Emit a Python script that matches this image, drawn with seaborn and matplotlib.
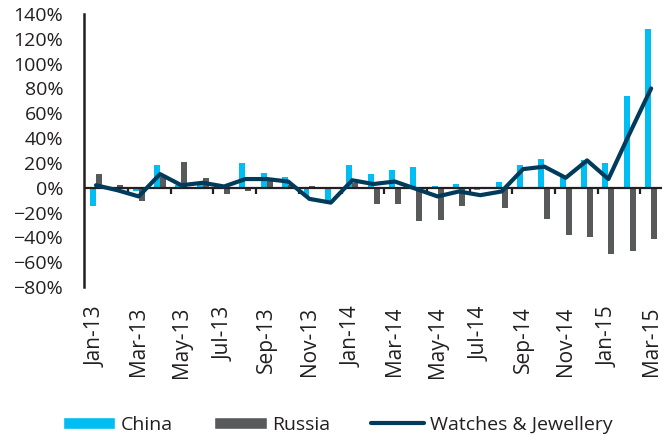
import numpy as np
import pandas as pd
import seaborn as sns
import matplotlib.pyplot as plt
from matplotlib.patches import Patch
from matplotlib.lines import Line2D
from matplotlib.ticker import PercentFormatter

# monthly year-on-year growth (%), Jan-13 .. Mar-15
months = ["Jan-13", "Feb-13", "Mar-13", "Apr-13", "May-13", "Jun-13", "Jul-13",
          "Aug-13", "Sep-13", "Oct-13", "Nov-13", "Dec-13", "Jan-14", "Feb-14",
          "Mar-14", "Apr-14", "May-14", "Jun-14", "Jul-14", "Aug-14", "Sep-14",
          "Oct-14", "Nov-14", "Dec-14", "Jan-15", "Feb-15", "Mar-15"]
china = [-15, -1, -3, 18, 2, 5, 1, 20, 12, 9, -7, -11, 18, 11, 14, 17, 1, 3,
         -2, 5, 18, 23, 9, 22, 20, 74, 128]
russia = [11, 2, -11, 9, 21, 8, -5, -3, 6, 2, 1, 0, 4, -13, -13, -27, -26, -15,
          -1, -16, -1, -25, -38, -40, -53, -51, -41]
watches = [2, -2, -7, 11, 2, 4, 1, 7, 7, 5, -9, -12, 6, 3, 5, -1, -7, -3, -6,
           -3, 15, 17, 8, 22, 7, 44, 80]

cyan = "#00BDF2"
grey = "#58595B"
navy = "#003B5C"
ink = "#231F20"

sns.set_style("white")
plt.rcParams["font.family"] = ["Open Sans", "DejaVu Sans"]
plt.rcParams["text.color"] = ink
plt.rcParams["xtick.color"] = ink
plt.rcParams["ytick.color"] = ink

# long-form table for the grouped bars
bars = pd.DataFrame({
    "month": months * 2,
    "value": china + russia,
    "country": ["China"] * len(months) + ["Russia"] * len(months),
})

fig = plt.figure(figsize=(6.71, 4.40), dpi=100)
ax = fig.add_axes([0.1252, 0.3477, 0.8614, 0.6205])

sns.barplot(data=bars, x="month", y="value", hue="country",
            palette=[cyan, grey], width=0.56, saturation=1, linewidth=0,
            legend=False, ax=ax, zorder=2)

# zero line drawn over the bars
ax.axhline(0, color=ink, lw=1.6, zorder=3)

sns.lineplot(x=np.arange(len(months)), y=watches, ax=ax, color=navy,
             lw=3, zorder=4)

ax.set_xlim(-0.56, 26.51)
ax.set_ylim(-80, 140)
ax.set_yticks(np.arange(-80, 141, 20))
ax.yaxis.set_major_formatter(PercentFormatter(decimals=0))
ax.set_xlabel("")
ax.set_ylabel("")

# month labels every other month, under the plot
ax.set_xticks(np.arange(0, len(months), 2))
ax.set_xticklabels(months[::2], rotation=90, va="top", ha="center")
ax.tick_params(axis="x", length=0, pad=14, labelsize=15)
ax.tick_params(axis="y", direction="out", length=5, width=1.8, pad=10,
               labelsize=14)

for side in ["top", "right", "bottom"]:
    ax.spines[side].set_visible(False)
ax.spines["left"].set_color(ink)
ax.spines["left"].set_linewidth(1.8)

# small tick marks on the zero line between every two months
sec = ax.secondary_xaxis(0, transform=ax.transData)
sec.set_xticks(np.arange(1.5, len(months), 2))
sec.tick_params(axis="x", direction="out", length=4, width=1.6,
                labelbottom=False, color=ink)
sec.spines["bottom"].set_visible(False)

handles = [
    Patch(facecolor=cyan, label="China"),
    Patch(facecolor=grey, label="Russia"),
    Line2D([0], [0], color=navy, lw=3, label="Watches & Jewellery"),
]
fig.legend(handles=handles, loc="center", bbox_to_anchor=(0.503, 0.034),
           ncol=3, frameon=False, fontsize=14, handlelength=2.7,
           handleheight=0.62, handletextpad=0.3, columnspacing=2.1)

fig.savefig("out.png", dpi=100)
